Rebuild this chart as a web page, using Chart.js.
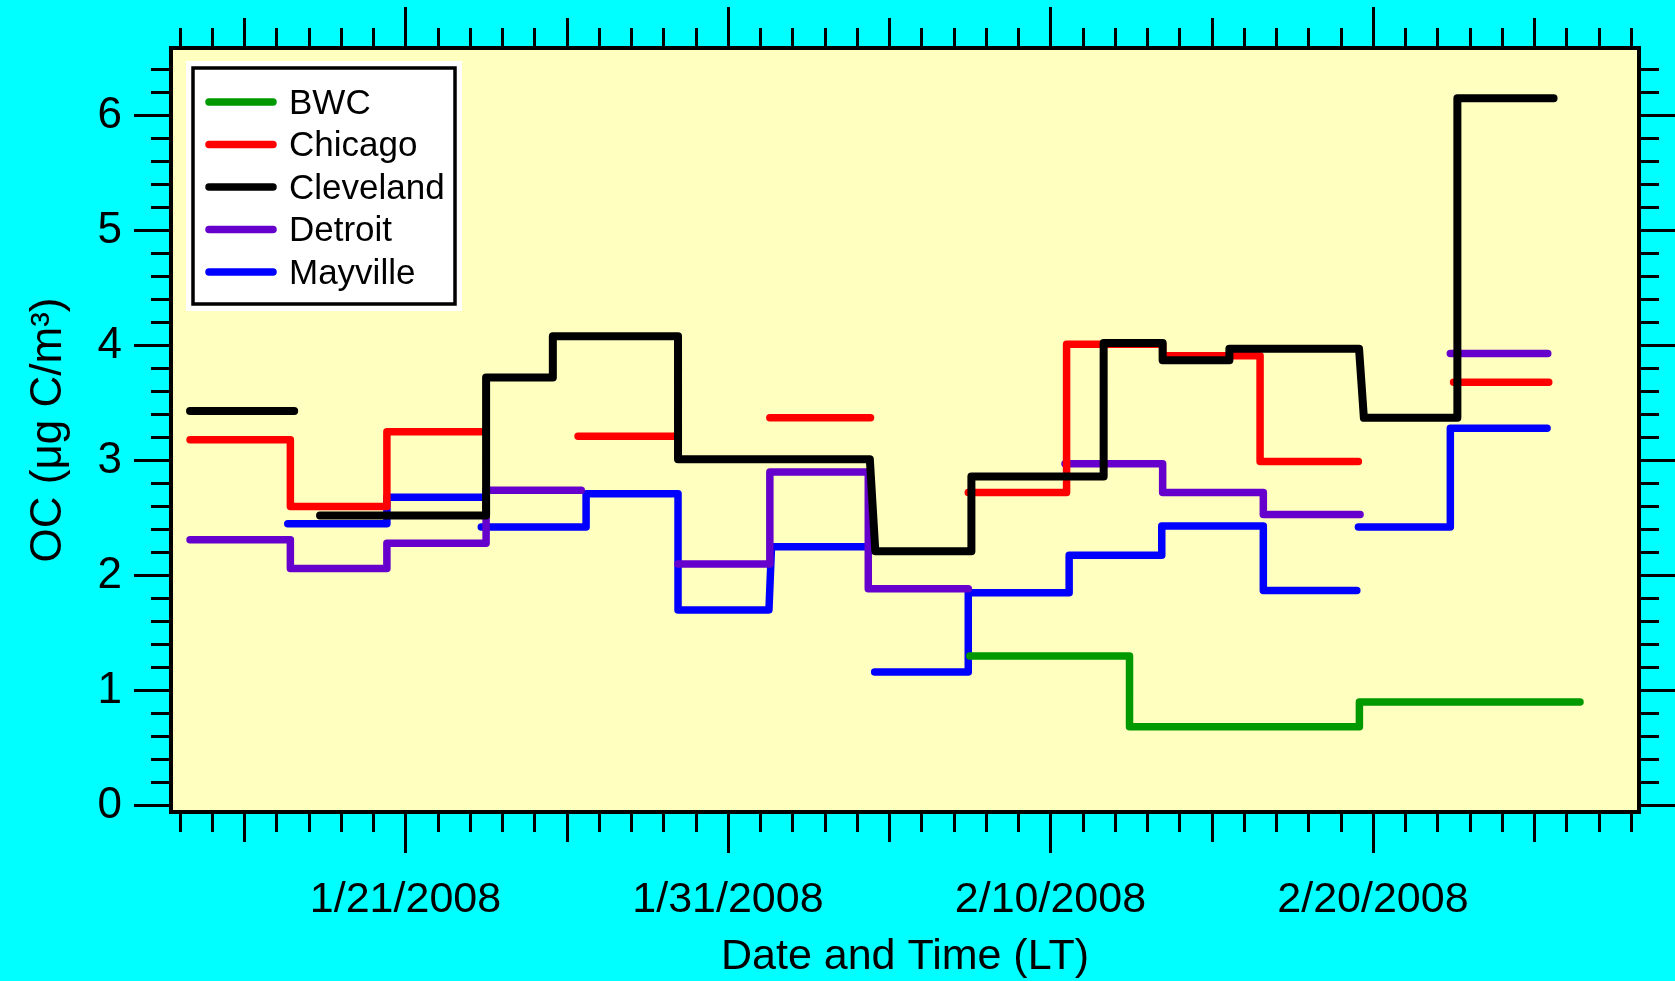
<!DOCTYPE html>
<html>
<head>
<meta charset="utf-8">
<title>OC by site</title>
<script src="https://cdn.jsdelivr.net/npm/chart.js@4.4.1/dist/chart.umd.min.js"></script>
<style>
  html, body { margin: 0; padding: 0; background: #00ffff; }
  #wrap { width: 1675px; height: 981px; }
</style>
</head>
<body>
<div id="wrap"><canvas id="chart" width="1675" height="981"></canvas></div>
<script>
// sites, in legend order
const seriesNames = ['BWC', 'Chicago', 'Cleveland', 'Detroit', 'Mayville'];
const seriesColors = ['#009900', '#ff0000', '#000000', '#6600cc', '#0000ff'];
const drawOrder = [1, 2, 0, 3, 4]; // Cleveland on top

// sample periods (2008, local time 'MM-DD HH:mm') and OC in ug C/m3; null = break in record
const bwcStart = ['02-07 12:00', '02-12 10:50', '02-19 13:55'];
const bwcEnd   = ['02-12 10:50', '02-19 13:55', '02-26 10:05'];
const bwcOC    = [1.30, 0.685, 0.90];

const chicagoStart = ['01-14 07:40', '01-17 10:20', '01-20 10:10', null, '01-26 08:25', null, '02-01 07:10', null, '02-07 10:50', '02-10 12:00', '02-13 11:30', '02-16 12:00', null, '02-22 12:00'];
const chicagoEnd   = ['01-17 10:20', '01-20 10:10', '01-23 12:00', null, '01-29 10:50', null, '02-04 10:05', null, '02-10 12:00', '02-13 11:30', '02-16 12:00', '02-19 13:10', null, '02-25 10:50'];
const chicagoOC    = [3.18, 2.60, 3.25, null, 3.21, null, 3.37, null, 2.72, 4.01, 3.91, 2.99, null, 3.68];

const clevelandStart = ['01-14 07:40', null, '01-18 08:25', '01-23 12:00', '01-25 13:40', '01-29 10:50', '02-04 13:40', '02-07 13:10', '02-11 15:35', '02-13 11:30', '02-15 13:10', '02-19 17:15', '02-22 14:50'];
const clevelandEnd   = ['01-17 13:10', null, '01-23 12:00', '01-25 13:40', '01-29 10:50', '02-04 09:35', '02-07 13:10', '02-11 15:35', '02-13 11:30', '02-15 13:10', '02-19 13:40', '02-22 14:50', '02-25 14:25'];
const clevelandOC    = [3.43, null, 2.52, 3.72, 4.08, 3.01, 2.21, 2.86, 4.02, 3.87, 3.97, 3.37, 6.15];

const detroitStart = ['01-14 07:40', '01-17 10:20', '01-20 10:10', '01-23 12:00', null, '01-29 10:50', '02-01 07:10', '02-04 08:25', null, '02-10 10:50', '02-13 11:30', '02-16 14:25', null, '02-22 09:35'];
const detroitEnd   = ['01-17 10:20', '01-20 10:10', '01-23 12:00', '01-26 10:50', null, '02-01 07:10', '02-04 08:25', '02-07 10:50', null, '02-13 11:30', '02-16 14:25', '02-19 14:25', null, '02-25 10:05'];
const detroitOC    = [2.31, 2.06, 2.28, 2.74, null, 2.10, 2.90, 1.885, null, 2.97, 2.72, 2.53, null, 3.93];

const mayvilleStart = ['01-17 08:25', '01-20 10:10', null, '01-23 08:25', '01-26 14:25', '01-29 10:50', '02-01 08:25', null, '02-04 13:10', '02-07 10:50', '02-10 13:55', '02-13 10:50', '02-16 14:25', null, '02-19 13:10', '02-22 09:35'];
const mayvilleEnd   = ['01-20 10:10', '01-23 12:00', null, '01-26 14:25', '01-29 10:50', '02-01 06:30', '02-04 07:10', null, '02-07 10:50', '02-10 13:55', '02-13 10:50', '02-16 14:25', '02-19 12:00', null, '02-22 09:35', '02-25 09:35'];
const mayvilleOC    = [2.45, 2.68, null, 2.42, 2.71, 1.70, 2.25, null, 1.16, 1.85, 2.175, 2.43, 1.87, null, 2.42, 3.28];

const seriesStart = [bwcStart, chicagoStart, clevelandStart, detroitStart, mayvilleStart];
const seriesEnd = [bwcEnd, chicagoEnd, clevelandEnd, detroitEnd, mayvilleEnd];
const seriesOC = [bwcOC, chicagoOC, clevelandOC, detroitOC, mayvilleOC];

// axes
const xTickLabels = ['1/21/2008', '1/31/2008', '2/10/2008', '2/20/2008'];
const xRange = ['01-13 17:30', '02-28 06:00'];
const yTicks = [0, 1, 2, 3, 4, 5, 6];
const yRange = [-0.057, 6.586];

const BASE = Date.UTC(2008, 0, 1);

// 'MM-DD HH:mm' -> days since 1 Jan 2008
function toDay(s) {
    const [md, hm] = s.split(' ');
    const [mo, d] = md.split('-').map(Number);
    const [h, m] = hm.split(':').map(Number);
    return (Date.UTC(2008, mo - 1, d, h, m) - BASE) / 864e5;
}

function labelDay(lbl) {
    const [m, d, y] = lbl.split('/').map(Number);
    return (Date.UTC(y, m - 1, d) - BASE) / 864e5;
}

// each sample is a flat step from start to end, joined to the next one
function buildPoints(starts, ends, values) {
    const pts = [];
    values.forEach((v, i) => {
        if (v === null) {
            pts.push({ x: pts.length ? pts[pts.length - 1].x : 0, y: null });
            return;
        }
        pts.push({ x: toDay(starts[i]), y: v });
        pts.push({ x: toDay(ends[i]), y: v });
    });
    return pts;
}

const refDay = labelDay(xTickLabels[0]);

const frame = {
    id: 'frame',
    beforeDraw(chart) {
        const { ctx, chartArea: a } = chart;
        ctx.save();
        ctx.fillStyle = '#00ffff';
        ctx.fillRect(0, 0, chart.width, chart.height);
        ctx.fillStyle = '#ffffc0';
        ctx.fillRect(a.left, a.top, a.right - a.left, a.bottom - a.top);
        ctx.restore();
    },
    afterDraw(chart) {
        const { ctx, chartArea: a } = chart;
        const x = chart.scales.x;
        const y = chart.scales.y;
        ctx.save();
        ctx.strokeStyle = '#000';
        ctx.lineWidth = 3;
        ctx.beginPath();
        // day ticks, longer every 5 and 10 days
        for (let d = Math.ceil(x.min); d <= x.max; d++) {
            const k = Math.round(d - refDay);
            const len = k % 10 === 0 ? 41 : (k % 5 === 0 ? 30 : 20);
            const px = Math.round(x.getPixelForValue(d)) + 0.5;
            ctx.moveTo(px, a.bottom);
            ctx.lineTo(px, a.bottom + len);
            ctx.moveTo(px, a.top);
            ctx.lineTo(px, a.top - len);
        }
        // 0.2 ticks on both sides
        for (let i = Math.ceil(y.min * 5); i <= Math.floor(y.max * 5); i++) {
            const len = i % 5 === 0 ? 37 : 20;
            const py = Math.round(y.getPixelForValue(i / 5)) + 0.5;
            ctx.moveTo(a.left, py);
            ctx.lineTo(a.left - len, py);
            ctx.moveTo(a.right, py);
            ctx.lineTo(a.right + len, py);
        }
        ctx.stroke();
        ctx.lineWidth = 4;
        ctx.strokeRect(a.left, a.top, a.right - a.left, a.bottom - a.top);
        ctx.restore();
    }
};

const legendBox = {
    id: 'legendBox',
    afterDraw(chart) {
        const { ctx, chartArea: a } = chart;
        const bx = a.left + 22, by = a.top + 20;
        ctx.save();
        ctx.fillStyle = '#ffffff';
        ctx.fillRect(bx - 7, by - 7, 276, 250);
        ctx.strokeStyle = '#000';
        ctx.lineWidth = 3.5;
        ctx.strokeRect(bx, by, 262, 236);
        ctx.font = '35px "Liberation Sans", Arial, sans-serif';
        ctx.textBaseline = 'middle';
        ctx.lineCap = 'round';
        chart.data.datasets.forEach((ds, i) => {
            const ry = by + 34 + i * 42.5;
            ctx.strokeStyle = ds.borderColor;
            ctx.lineWidth = 7.5;
            ctx.beginPath();
            ctx.moveTo(bx + 16, ry);
            ctx.lineTo(bx + 80, ry);
            ctx.stroke();
            ctx.fillStyle = '#000';
            ctx.fillText(ds.label, bx + 96, ry + 2);
        });
        ctx.restore();
    }
};

Chart.defaults.font.family = '"Liberation Sans", Arial, sans-serif';
Chart.defaults.color = '#000';

const datasets = seriesNames.map((name, i) => ({
    label: name,
    data: buildPoints(seriesStart[i], seriesEnd[i], seriesOC[i]),
    borderColor: seriesColors[i],
    backgroundColor: seriesColors[i],
    borderWidth: i === 2 ? 8 : 7.5,
    borderCapStyle: 'round',
    borderJoinStyle: 'round',
    pointRadius: 0,
    tension: 0,
    spanGaps: false,
    order: drawOrder[i]
}));

new Chart(document.getElementById('chart'), {
    type: 'line',
    data: { datasets: datasets },
    options: {
        responsive: false,
        animation: false,
        layout: { padding: { top: 48, right: 36, left: 0, bottom: 0 } },
        plugins: {
            legend: { display: false },
            tooltip: { enabled: false }
        },
        scales: {
            x: {
                type: 'linear',
                min: toDay(xRange[0]),
                max: toDay(xRange[1]),
                grid: { display: false, drawTicks: false },
                border: { display: false },
                afterBuildTicks: s => { s.ticks = xTickLabels.map(l => ({ value: labelDay(l) })); },
                afterFit: s => { s.height = 169; s.paddingLeft = 0; s.paddingRight = 0; },
                ticks: {
                    autoSkip: false,
                    maxRotation: 0,
                    padding: 62,
                    font: { size: 43 },
                    callback: (v, i) => xTickLabels[i]
                },
                title: {
                    display: true,
                    text: 'Date and Time (LT)',
                    font: { size: 43, lineHeight: 1.1 },
                    padding: { top: 0, bottom: 0 }
                }
            },
            y: {
                type: 'linear',
                min: yRange[0],
                max: yRange[1],
                grid: { display: false, drawTicks: false },
                border: { display: false },
                afterBuildTicks: s => { s.ticks = yTicks.map(v => ({ value: v })); },
                afterFit: s => { s.width = 171; s.paddingTop = 0; s.paddingBottom = 0; },
                ticks: {
                    padding: 49,
                    font: { size: 44 },
                    callback: v => String(v)
                },
                title: {
                    display: true,
                    text: 'OC (\u03bcg C/m\u00b3)',
                    font: { size: 44 },
                    padding: { top: 22, bottom: 0 }
                }
            }
        }
    },
    plugins: [frame, legendBox]
});
</script>
</body>
</html>
